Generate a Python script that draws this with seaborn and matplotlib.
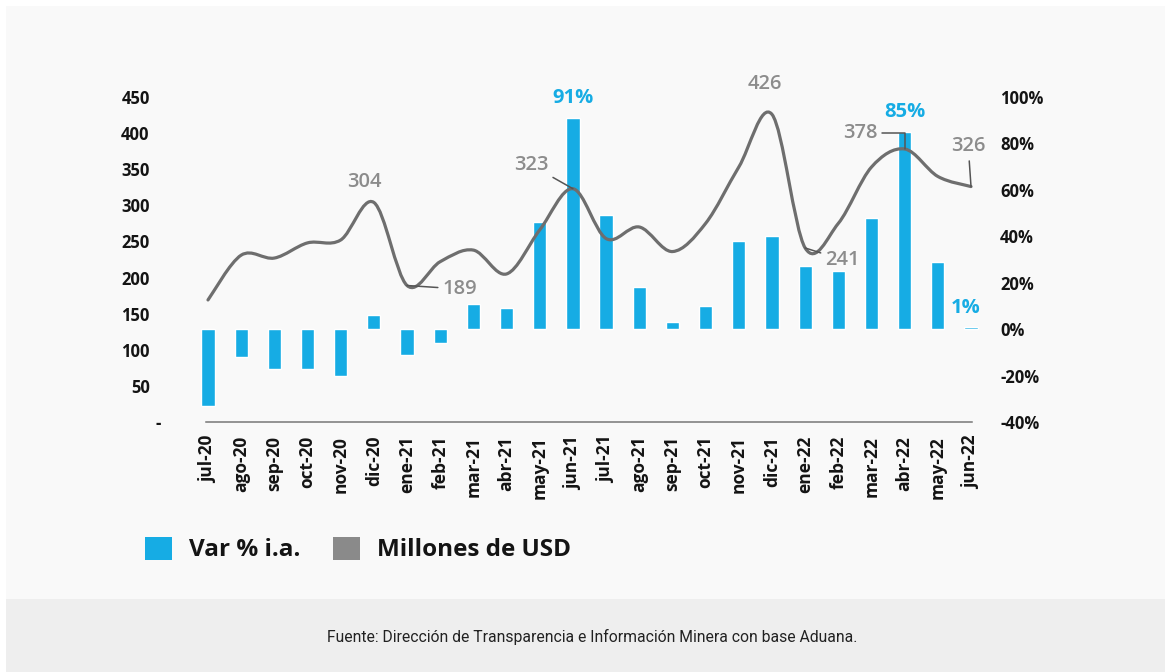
import numpy as np
import pandas as pd
import matplotlib
matplotlib.use("Agg")
import matplotlib.pyplot as plt
import seaborn as sns
from matplotlib.path import Path
from matplotlib.patches import PathPatch, Rectangle, Patch
from matplotlib.transforms import ScaledTranslation

# ---------------- data ----------------
months = ["jul-20", "ago-20", "sep-20", "oct-20", "nov-20", "dic-20",
          "ene-21", "feb-21", "mar-21", "abr-21", "may-21", "jun-21",
          "jul-21", "ago-21", "sep-21", "oct-21", "nov-21", "dic-21",
          "ene-22", "feb-22", "mar-22", "abr-22", "may-22", "jun-22"]
var_pct = [-33, -12, -17, -17, -20, 6, -11, -6, 11, 9, 46, 91,
           49, 18, 3, 10, 38, 40, 27, 25, 48, 85, 29, 1]
usd = [169, 231, 227, 248, 252, 304, 189, 222, 238, 205, 266, 323,
       254, 270, 236, 275, 353, 426, 241, 275, 353, 378, 340, 326]
left_ticks = [0, 50, 100, 150, 200, 250, 300, 350, 400, 450]
left_labels = ["-", "50", "100", "150", "200", "250", "300", "350", "400", "450"]
right_ticks = [-40, -20, 0, 20, 40, 60, 80, 100]
right_labels = ["-40%", "-20%", "0%", "20%", "40%", "60%", "80%", "100%"]
usd_labels = {5: "304", 6: "189", 11: "323", 17: "426", 18: "241", 21: "378", 23: "326"}
pct_labels = {11: "91%", 21: "85%", 23: "1%"}
legend_labels = ["Var % i.a.", "Millones de USD"]
source = "Fuente: Dirección de Transparencia e Información Minera con base Aduana."

BLUE = "#16ace4"
LINE = "#6e6e6e"
GRAY_TXT = "#8c8c8c"
DARK = "#141414"

sns.set_theme(style="white")
plt.rcParams["font.family"] = ["Open Sans", "DejaVu Sans"]

W, H = 1165, 672
fig = plt.figure(figsize=(W / 100, H / 100), dpi=100, facecolor="white")

# backgrounds
fig.patches.append(Rectangle((6 / W, 73 / H), 1, (H - 73 - 6) / H, transform=fig.transFigure,
                             facecolor="#f9f9f9", edgecolor="none", zorder=-10))
fig.patches.append(Rectangle((6 / W, 0), 1, 73 / H, transform=fig.transFigure,
                             facecolor="#eeeeee", edgecolor="none", zorder=-10))

left_px, right_px = 191.4, 987.6
top_px, bot_px = 97, 422
ax = fig.add_axes([left_px / W, 1 - bot_px / H, (right_px - left_px) / W, (bot_px - top_px) / H])
ax.set_facecolor("none")

df = pd.DataFrame({"mes": months, "var": var_pct, "usd": usd})
sns.barplot(data=df, x="mes", y="var", ax=ax, color=BLUE, saturation=1, width=0.4, zorder=2)
ax.set_xlim(-0.5, len(months) - 0.5)
ax.set_ylim(-40, 100)
ax.set_xlabel("")
ax.set_ylabel("")

ax2 = ax.twinx()
ax2.set_facecolor("none")
ax2.set_ylim(0, 450)

ax.yaxis.tick_right()
ax.set_yticks(right_ticks)
ax.set_yticklabels(right_labels)
ax2.yaxis.tick_left()
ax2.set_yticks(left_ticks)
ax2.set_yticklabels(left_labels)


def smooth_path(xs, ys, t=1 / 6):
    P = np.column_stack([xs, ys]).astype(float)
    n = len(P)
    verts = [P[0]]
    codes = [Path.MOVETO]
    for i in range(n - 1):
        p0 = P[i - 1] if i > 0 else P[i]
        p1, p2 = P[i], P[i + 1]
        p3 = P[i + 2] if i + 2 < n else P[i + 1]
        verts += [p1 + (p2 - p0) * t, p2 - (p3 - p1) * t, p2]
        codes += [Path.CURVE4] * 3
    return Path(verts, codes)


xs = np.arange(len(months))
ax2.add_patch(PathPatch(smooth_path(xs, df["usd"].values), fill=False, edgecolor=LINE,
                        linewidth=2.3, capstyle="round", joinstyle="round", zorder=3))

for a in (ax, ax2):
    for s in a.spines.values():
        s.set_visible(False)
ax.spines["bottom"].set_visible(True)
ax.spines["bottom"].set_bounds(-0.06, len(months) - 0.97)
ax.spines["bottom"].set_color("#777777")
ax.spines["bottom"].set_linewidth(1.1)

ax.tick_params(axis="x", length=0, pad=10, labelsize=12.5, labelcolor=DARK, rotation=90)
ax.tick_params(axis="y", length=0, pad=9, labelsize=12, labelcolor=DARK)
ax2.tick_params(axis="y", length=0, pad=30, labelsize=12, labelcolor=DARK)
for lab in ax.get_xticklabels() + ax.get_yticklabels() + ax2.get_yticklabels():
    lab.set_fontweight("bold")
for lab in ax.get_xticklabels():
    lab.set_verticalalignment("top")
zero_lab = ax2.get_yticklabels()[0]
zero_lab.set_transform(zero_lab.get_transform() + ScaledTranslation(11 / 100, 0, fig.dpi_scale_trans))

# annotations (offsets in points)
usd_off = {5: (-6.5, 14.5, None), 6: (38, -2.5, "arc3"), 11: (-30, 17, "arc3"), 17: (-5, 22, None),
           18: (27, -8.6, "arc3"), 21: (-32, 11.5, "angle,angleA=0,angleB=90,rad=0"), 23: (-2, 29, "arc3")}
for i, txt in usd_labels.items():
    dx, dy, conn = usd_off[i]
    kw = {}
    if conn:
        kw = dict(arrowprops=dict(arrowstyle="-", color="#555555", lw=1.1, shrinkA=1, shrinkB=0,
                                  connectionstyle=conn))
    ax2.annotate(txt, (i, usd[i]), xytext=(dx, dy), textcoords="offset points", ha="center", va="center",
                 fontsize=14.5, color=GRAY_TXT, fontweight="semibold", annotation_clip=False, zorder=5, **kw)

pct_off = {11: (0, 14.5), 21: (0, 14.5), 23: (-3.6, 13.7)}
for i, txt in pct_labels.items():
    dx, dy = pct_off[i]
    ax.annotate(txt, (i, var_pct[i]), xytext=(dx, dy), textcoords="offset points", ha="center", va="center",
                fontsize=14.5, color=BLUE, fontweight="bold", annotation_clip=False, zorder=5)

handles = [Patch(facecolor=BLUE, edgecolor="none"), Patch(facecolor="#8a8a8a", edgecolor="none")]
leg = fig.legend(handles, legend_labels, loc="center left", bbox_to_anchor=(145 / W, 1 - 549.5 / H),
                 ncol=2, frameon=False, fontsize=17.5, handlelength=1.1, handleheight=1.1,
                 handletextpad=0.7, columnspacing=1.35, borderpad=0, borderaxespad=0)
for t in leg.get_texts():
    t.set_fontweight("bold")
    t.set_color(DARK)

fig.text(592 / W, 1 - 637 / H, source, ha="center", va="center", fontsize=11.3, color="#222222",
         family=["Liberation Sans Narrow", "Roboto", "DejaVu Sans"])

fig.savefig("out.png", dpi=100, facecolor="white")
